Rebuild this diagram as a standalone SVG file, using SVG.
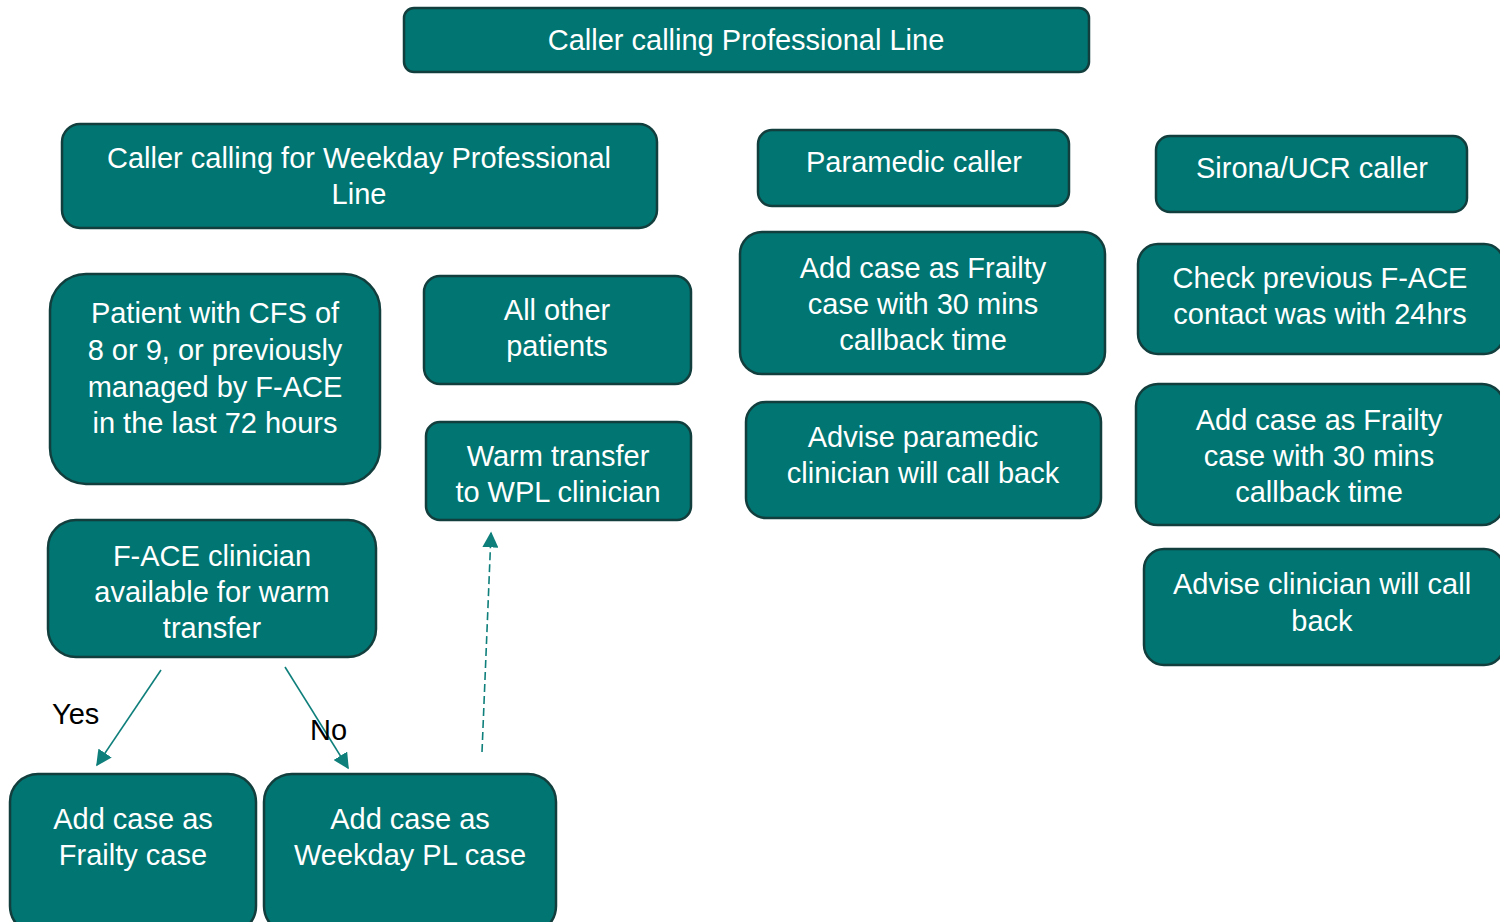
<svg xmlns="http://www.w3.org/2000/svg" width="1500" height="922" viewBox="0 0 1500 922">
<style>
.box{fill:#007571;stroke:#123f3e;stroke-width:2.5}
.t{font-family:"Liberation Sans",Arial,sans-serif;font-size:29px;fill:#ffffff;text-anchor:middle}
.lbl{font-family:"Liberation Sans",Arial,sans-serif;font-size:29px;fill:#000000}
.c{stroke:#0f7f7b;stroke-width:1.6;fill:none}
</style>
<defs>
<marker id="ah" viewBox="0 0 10 10" refX="9" refY="5" markerWidth="10" markerHeight="10" markerUnits="userSpaceOnUse" orient="auto">
<path d="M0,0 L10,5 L0,10 z" fill="#0f7f7b"/>
</marker>
<marker id="ahb" viewBox="0 0 10 10" refX="9" refY="5" markerWidth="16" markerHeight="16" markerUnits="userSpaceOnUse" orient="auto">
<path d="M0,0 L10,5 L0,10 z" fill="#0f7f7b"/>
</marker>
</defs>
<g id="n-top"><rect class="box" x="404" y="8" width="685" height="64" rx="10"/><text class="t" x="746" y="50">Caller calling Professional Line</text></g>
<g id="n-weekday"><rect class="box" x="62" y="124" width="595" height="104" rx="18"/><text class="t" x="359" y="168">Caller calling for Weekday Professional</text><text class="t" x="359" y="204">Line</text></g>
<g id="n-paramedic"><rect class="box" x="758" y="130" width="311" height="76" rx="14"/><text class="t" x="914" y="172">Paramedic caller</text></g>
<g id="n-sirona"><rect class="box" x="1156" y="136" width="311" height="76" rx="14"/><text class="t" x="1312" y="178">Sirona/UCR caller</text></g>
<g id="n-patient"><rect class="box" x="50" y="274" width="330" height="210" rx="36"/><text class="t" x="215" y="323">Patient with CFS of</text><text class="t" x="215" y="360">8 or 9, or previously</text><text class="t" x="215" y="397">managed by F-ACE</text><text class="t" x="215" y="433">in the last 72 hours</text></g>
<g id="n-allother"><rect class="box" x="424" y="276" width="267" height="108" rx="16"/><text class="t" x="557" y="320">All other</text><text class="t" x="557" y="356">patients</text></g>
<g id="n-warm"><rect class="box" x="426" y="422" width="265" height="98" rx="14"/><text class="t" x="558" y="466">Warm transfer</text><text class="t" x="558" y="502">to WPL clinician</text></g>
<g id="n-para-add"><rect class="box" x="740" y="232" width="365" height="142" rx="22"/><text class="t" x="923" y="278">Add case as Frailty</text><text class="t" x="923" y="314">case with 30 mins</text><text class="t" x="923" y="350">callback time</text></g>
<g id="n-para-advise"><rect class="box" x="746" y="402" width="355" height="116" rx="20"/><text class="t" x="923" y="447">Advise paramedic</text><text class="t" x="923" y="483">clinician will call back</text></g>
<g id="n-check"><rect class="box" x="1138" y="244" width="366" height="110" rx="20"/><text class="t" x="1320" y="288">Check previous F-ACE</text><text class="t" x="1320" y="324">contact was with 24hrs</text></g>
<g id="n-sir-add"><rect class="box" x="1136" y="384" width="368" height="141" rx="22"/><text class="t" x="1319" y="430">Add case as Frailty</text><text class="t" x="1319" y="466">case with 30 mins</text><text class="t" x="1319" y="502">callback time</text></g>
<g id="n-sir-advise"><rect class="box" x="1144" y="549" width="360" height="116" rx="20"/><text class="t" x="1322" y="594">Advise clinician will call</text><text class="t" x="1322" y="631">back</text></g>
<g id="n-face"><rect class="box" x="48" y="520" width="328" height="137" rx="28"/><text class="t" x="212" y="566">F-ACE clinician</text><text class="t" x="212" y="602">available for warm</text><text class="t" x="212" y="638">transfer</text></g>
<g id="n-frailty"><rect class="box" x="10" y="774" width="246" height="160" rx="28"/><text class="t" x="133" y="829">Add case as</text><text class="t" x="133" y="865">Frailty case</text></g>
<g id="n-weekdaypl"><rect class="box" x="264" y="774" width="292" height="160" rx="28"/><text class="t" x="410" y="829">Add case as</text><text class="t" x="410" y="865">Weekday PL case</text></g>
<g id="connectors">
<line class="c" x1="161" y1="670" x2="97" y2="765" marker-end="url(#ahb)"/>
<line class="c" x1="285" y1="667" x2="348" y2="768" marker-end="url(#ahb)"/>
<line class="c" x1="482" y1="752" x2="491" y2="533" stroke-dasharray="8,4" marker-end="url(#ahb)"/>
</g>
<text class="lbl" x="52" y="724">Yes</text>
<text class="lbl" x="310" y="740">No</text>
</svg>
